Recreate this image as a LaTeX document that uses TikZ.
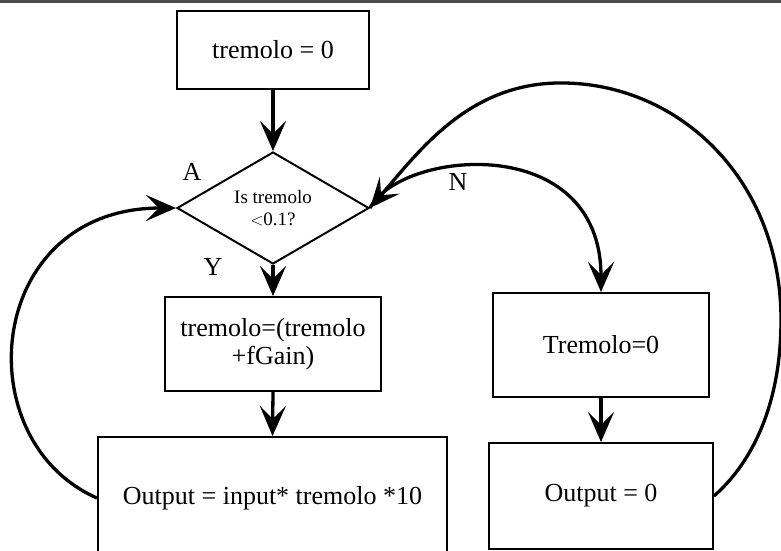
\documentclass[tikz,border=0pt]{standalone}
\usepackage{fontspec}
\setmainfont{Liberation Serif}
\usetikzlibrary{arrows.meta,positioning,shapes.geometric}

\tikzset{
  stepbox/.style={draw, line width=2pt, minimum width=#1, align=center, inner sep=0pt,
    font=\fontsize{26}{28}\selectfont},
  testbox/.style={draw, diamond, line width=2pt, aspect=1.714, inner sep=0pt,
    minimum width=192pt, minimum height=112pt, align=center,
    font=\fontsize{19}{22}\selectfont},
  flow/.style={line width=3.3pt, -{Stealth[length=30pt,width=26pt,inset=13pt]}},
  tag/.style={font=\fontsize{26}{28}\selectfont}
}

\begin{document}
\begin{tikzpicture}[x=1pt,y=-1pt]
  \useasboundingbox (0,0) rectangle (781,550);
  \clip (0,0) rectangle (781,550);

  % Rule at the top edge
  \draw [line width=3pt, black!70] (0,1.5) -- (781,1.5);

  % Left column
  \node [stepbox=192pt, minimum height=78pt] (init) at (273,50) {tremolo = 0};
  \node [testbox] (test) at (273,208) {Is tremolo\\$<$0.1?};
  \node [stepbox=216pt, minimum height=94pt] (grow) at (273,344) {tremolo=(tremolo\\+fGain)};
  \node [stepbox=349pt, minimum height=122pt] (outA) at (272.5,498) {Output = input* tremolo *10};

  % Right column
  \node [stepbox=216pt, minimum height=104pt] (reset) at (601,345) {Tremolo=0};
  \node [stepbox=224pt, minimum height=106pt] (outB) at (601,496) {Output = 0};

  % Marking labels A, N, Y
  \node [tag] (labA) at (192,172) {A};
  \node [tag] (labN) at (458,182) {N};
  \node [tag] (labY) at (213,267) {Y};

  % Drawing straight arrows
  \draw [flow] (init.south) -- (test.north);
  \draw [flow] (test.south) -- (grow.north);
  \draw [flow] (grow.south) -- (outA.north);
  \draw [flow] (reset.south) -- (outB.north);

  % Drawing loop back from outA to test
  \draw [flow] (outA.west) .. controls (-35,440) and (-15,208) .. (test.west);

  % Drawing N branch
  \draw [flow] (test.east) .. controls (400,150) and (601,130) .. (reset.north);

  % Drawing loop back from outB to test
  \coordinate (farR) at (781,320);
  \coordinate (topR) at (565,83);
  \draw [flow]
    (outB.east) .. controls (755,460) and (781,400) .. (farR)
    .. controls (781,180) and (680,85) .. (topR)
    .. controls (470,81) and (420,150) .. (test.east);
\end{tikzpicture}
\end{document}
